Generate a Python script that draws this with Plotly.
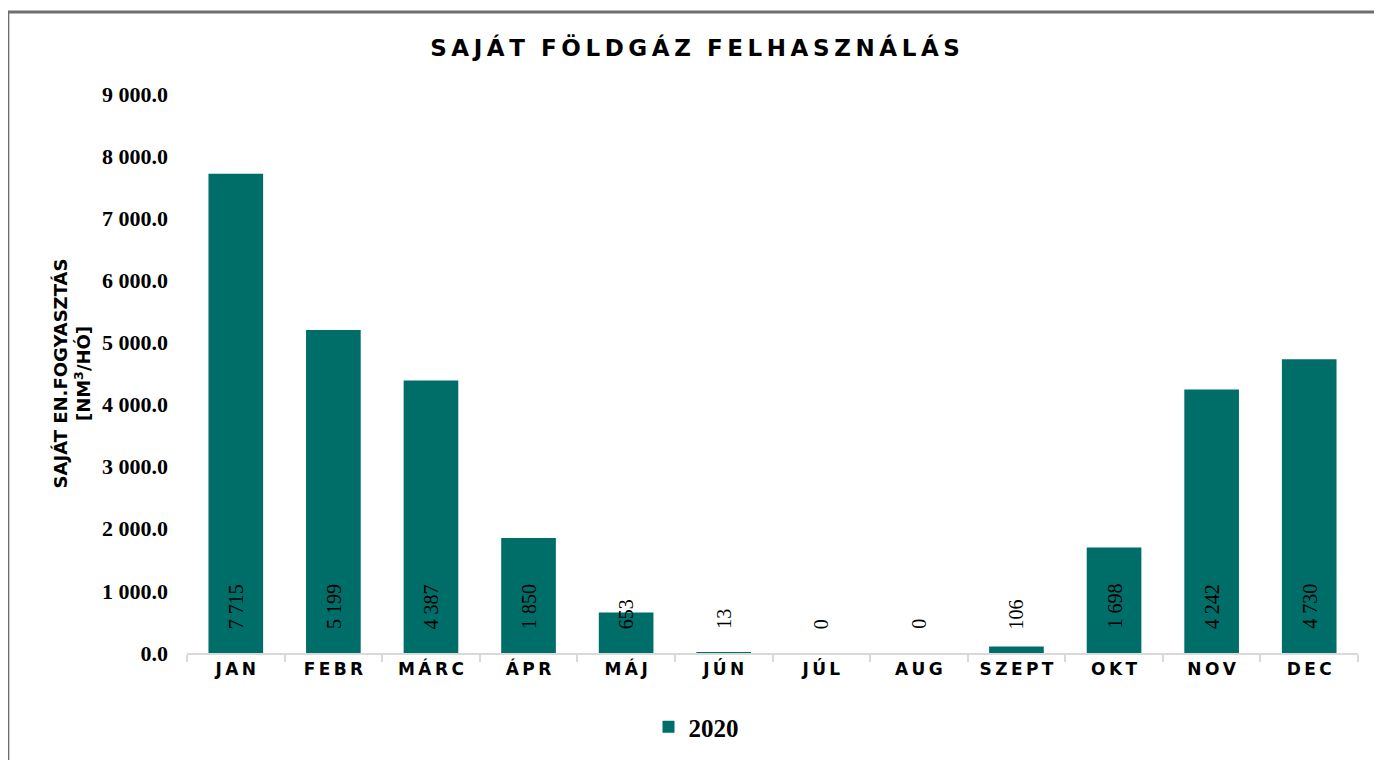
import plotly.graph_objects as go

months = ["JAN", "FEBR", "MÁRC", "ÁPR", "MÁJ", "JÚN", "JÚL", "AUG", "SZEPT", "OKT", "NOV", "DEC"]
values_2020 = [7715, 5199, 4387, 1850, 653, 13, 0, 0, 106, 1698, 4242, 4730]
series_name = "2020"
title_text = "SAJÁT FÖLDGÁZ FELHASZNÁLÁS"
y_title = "SAJÁT EN.FOGYASZTÁS<br>[NM<sup>3</sup>/HÓ]"
y_ticks = [0, 1000, 2000, 3000, 4000, 5000, 6000, 7000, 8000, 9000]

BAR = "#006e68"
NB = "\u00a0"
THIN = "\u2009"

# page body has an 8px default margin; figure is sized to fit the window
W, H = 1374, 752


def spaced_letters(s, gap=THIN, word_gap=NB * 2):
    words = s.split(" ")
    return word_gap.join(gap.join(list(w)) for w in words)


fig = go.Figure()
fig.add_trace(go.Bar(
    x=months, y=values_2020, name=series_name,
    marker=dict(color=BAR, line=dict(width=0)),
    width=0.56,
))

for m, v in zip(months, values_2020):
    fig.add_annotation(
        x=m, y=0, xref="x", yref="y",
        text=f"{v:,}".replace(",", " "),
        textangle=-90, showarrow=False,
        yanchor="bottom", xanchor="center", yshift=22,
        font=dict(family="Liberation Serif", size=20, color="#000000"),
    )

fig.add_shape(
    type="rect", xref="paper", yref="paper",
    x0=-0.1530, x1=1.0273, y0=-0.2093, y1=1.1467,
    line=dict(color="#6e6e6e", width=3), fillcolor="rgba(0,0,0,0)",
    layer="above",
)

fig.update_layout(
    width=W, height=H,
    paper_bgcolor="white", plot_bgcolor="white",
    margin=dict(l=179, r=24, t=86, b=107),
    separators=". ",
    title=dict(
        text=spaced_letters(title_text, THIN, NB * 2),
        x=0.5, xref="container", xanchor="center",
        y=1 - 40 / H, yref="container", yanchor="middle",
        font=dict(family="DejaVu Sans", size=23, color="#000000", weight="bold"),
    ),
    showlegend=True,
    legend=dict(
        orientation="h", x=688 / W, xref="container", xanchor="center",
        y=(H - 719) / H, yref="container", yanchor="middle",
        font=dict(family="Liberation Serif", size=25, color="#000000", weight="bold"),
        itemwidth=30,
    ),
    bargap=0.44,
)

fig.update_xaxes(
    type="category",
    tickvals=months,
    ticktext=[spaced_letters(m, THIN) for m in months],
    tickfont=dict(family="DejaVu Sans", size=17, color="#000000", weight="bold"),
    showline=True, linecolor="#d9d9d9", linewidth=2,
    ticks="outside", tickson="boundaries", ticklen=7, tickcolor="#d9d9d9", tickwidth=2,
    showgrid=False, zeroline=False,
)

fig.update_yaxes(
    range=[0, 9000],
    tickvals=y_ticks,
    tickformat=",.1f",
    tickfont=dict(family="Liberation Serif", size=22, color="#000000", weight="bold"),
    showline=False, showgrid=False, zeroline=False,
    ticks="", ticklabelstandoff=18,
    title=dict(
        text=y_title, standoff=6,
        font=dict(family="DejaVu Sans", size=18, color="#000000", weight="bold"),
    ),
)

fig.write_html("out.html")
